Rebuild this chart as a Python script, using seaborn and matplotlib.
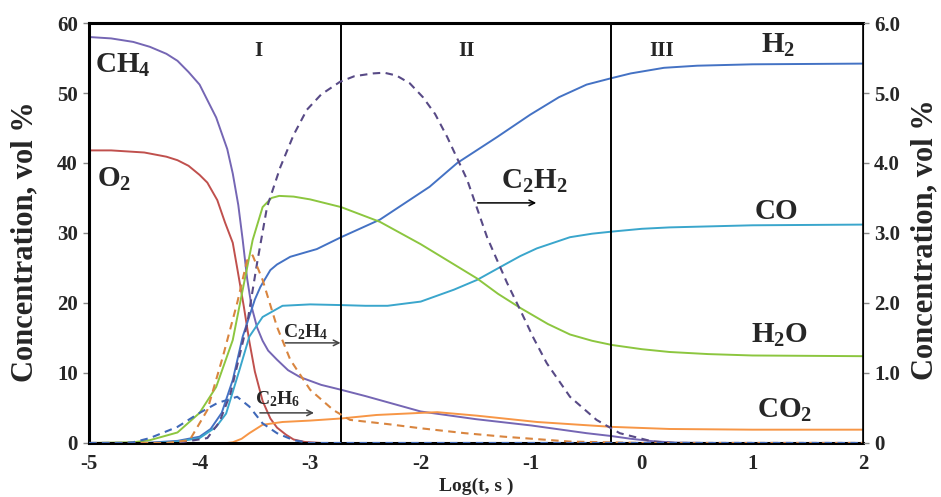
import numpy as np
import pandas as pd
import matplotlib
matplotlib.use("Agg")
import matplotlib.pyplot as plt
import seaborn as sns

# Dados (eixo esquerdo: vol %; tracejadas no eixo direito)
ch4_x = [-5, -4.8, -4.6, -4.45, -4.3, -4.2, -4.1, -4.0, -3.93, -3.85, -3.75, -3.7, -3.65, -3.61,
         -3.57, -3.53, -3.48, -3.43, -3.38, -3.3, -3.2, -3.09, -2.9, -2.72, -2.5, -2.0, -1.5,
         -1.0, -0.5, -0.28, -0.1, 0.1, 0.3, 0.6, 1, 2]
ch4_y = [58, 57.8, 57.3, 56.6, 55.6, 54.6, 53, 51.2, 49, 46.5, 42, 38.5, 34, 29,
         23.5, 19.5, 16.5, 14.6, 13.2, 11.9, 10.4, 9.4, 8.3, 7.6, 6.7, 4.5, 3.4,
         2.5, 1.4, 1.0, 0.6, 0.25, 0.05, 0, 0, 0]

o2_x = [-5, -4.8, -4.5, -4.3, -4.2, -4.1, -4.0, -3.93, -3.84, -3.77, -3.7, -3.66, -3.6, -3.55,
        -3.5, -3.43, -3.36, -3.3, -3.22, -3.15, -3.05, -2.9, 2]
o2_y = [41.8, 41.8, 41.5, 40.9, 40.4, 39.6, 38.3, 37.2, 34.7, 31.5, 28.6, 25, 19.5, 14.5,
        10.2, 6, 3.5, 2.2, 1.2, 0.5, 0.15, 0, 0]

h2_x = [-5, -4.5, -4.2, -4.0, -3.9, -3.8, -3.7, -3.61, -3.5, -3.45, -3.36, -3.3, -3.18, -3.05,
        -2.94, -2.72, -2.37, -1.92, -1.67, -1.31, -1.01, -0.75, -0.5, -0.28, -0.1, 0.2, 0.5,
        1, 2]
h2_y = [0, 0, 0.3, 0.9, 2, 4.3, 9, 15.2, 20.5, 22.3, 24.7, 25.5, 26.6, 27.2,
        27.7, 29.4, 31.9, 36.6, 40, 43.7, 46.9, 49.4, 51.2, 52.1, 52.8, 53.6, 53.9,
        54.1, 54.2]

co_x = [-5, -4.4, -4.2, -4.0, -3.85, -3.76, -3.64, -3.55, -3.43, -3.25, -3.0, -2.72, -2.5, -2.3,
        -2.0, -1.7, -1.49, -1.25, -1.1, -0.95, -0.65, -0.45, -0.27, 0, 0.25, 1, 2]
co_y = [0, 0, 0.2, 0.7, 2.3, 4.2, 10.4, 15.2, 18, 19.6, 19.8, 19.7, 19.6, 19.6,
        20.2, 21.9, 23.3, 25.4, 26.7, 27.8, 29.4, 29.9, 30.2, 30.6, 30.8, 31.1, 31.2]

h2o_x = [-5, -4.6, -4.45, -4.2, -4.0, -3.85, -3.7, -3.61, -3.52, -3.43, -3.35, -3.28, -3.15, -3.0,
         -2.72, -2.37, -2.0, -1.75, -1.49, -1.3, -1.1, -0.85, -0.65, -0.45, -0.27, 0, 0.25,
         0.6, 1, 2]
h2o_y = [0, 0.1, 0.4, 1.5, 4.3, 8, 14.7, 21.9, 29, 33.7, 35, 35.3, 35.2, 34.8,
         33.7, 31.6, 28.4, 26, 23.5, 21.3, 19.3, 17.0, 15.5, 14.6, 14, 13.4, 13,
         12.7, 12.5, 12.4]

co2_x = [-5, -3.75, -3.7, -3.62, -3.55, -3.43, -3.25, -3.0, -2.72, -2.4, -2.0, -1.85, -1.49,
         -0.95, -0.27, 0.25, 1, 2]
co2_y = [0, 0, 0.1, 0.6, 1.4, 2.6, 3.0, 3.2, 3.5, 4.0, 4.3, 4.4, 3.9, 3.0, 2.3, 2.0, 1.9, 1.9]

c2h2_x = [-5, -4.2, -3.93, -3.82, -3.72, -3.57, -3.48, -3.39, -3.27, -3.15, -3.03, -2.9, -2.73,
          -2.6, -2.43, -2.33, -2.22, -2.1, -1.98, -1.87, -1.76, -1.58, -1.4, -1.22, -1.1, -0.98,
          -0.86, -0.65, -0.41, -0.2, 0.1, 0.3, 2]
c2h2_y = [0, 0, 0.07, 0.3, 0.71, 1.7, 2.57, 3.37, 3.94, 4.4, 4.76, 4.98, 5.16,
          5.24, 5.28, 5.29, 5.25, 5.14, 4.94, 4.7, 4.37, 3.76, 2.94, 2.29, 1.9, 1.5,
          1.14, 0.66, 0.33, 0.14, 0.02, 0, 0]

c2h4_x = [-5, -4.3, -4.09, -3.93, -3.79, -3.66, -3.57, -3.52, -3.43, -3.3, -3.18, -3.0, -2.79,
          -2.64, -2.3, -2.0, -1.6, -1.25, -0.65, 0, 2]
c2h4_y = [0, 0, 0.04, 0.47, 1.23, 2.0, 2.61, 2.68, 2.33, 1.66, 1.19, 0.76, 0.47,
          0.33, 0.27, 0.21, 0.14, 0.09, 0.02, 0, 0]

c2h6_x = [-5, -4.7, -4.6, -4.45, -4.2, -4.0, -3.84, -3.66, -3.55, -3.43, -3.3, -3.15, -3.0, 2]
c2h6_y = [0, 0, 0.01, 0.07, 0.23, 0.43, 0.57, 0.66, 0.52, 0.28, 0.14, 0.04, 0, 0]

zone_edges = [-2.72, -0.28]

# Configurações
sns.set_style("white")
plt.rcParams['font.family'] = ['Liberation Serif', 'DejaVu Serif']
plt.rcParams['font.weight'] = 'bold'
plt.rcParams['mathtext.fontset'] = 'custom'
plt.rcParams['mathtext.rm'] = 'Liberation Serif:bold'
plt.rcParams['mathtext.default'] = 'rm'
plt.rcParams['axes.unicode_minus'] = False

solidas = [
    (ch4_x, ch4_y, '#7566b4'),
    (o2_x, o2_y, '#c0504d'),
    (h2_x, h2_y, '#4472c4'),
    (co_x, co_y, '#3aa6cc'),
    (h2o_x, h2o_y, '#8cc63f'),
    (co2_x, co2_y, '#f79646'),
]
tracejadas = [
    (c2h2_x, c2h2_y, '#584a86'),
    (c2h4_x, c2h4_y, '#d9853f'),
    (c2h6_x, c2h6_y, '#3f68b8'),
]

fig = plt.figure(figsize=(9.41, 4.97), dpi=100)
ax = fig.add_axes([0.0946, 0.1087, 0.8225, 0.845])
ax2 = ax.twinx()

for xs, ys, cor in solidas:
    sns.lineplot(x=xs, y=ys, ax=ax, color=cor, lw=1.4, sort=False, estimator=None)
for xs, ys, cor in tracejadas:
    sns.lineplot(x=xs, y=ys, ax=ax2, color=cor, lw=1.5, sort=False, estimator=None)
    ax2.lines[-1].set_dashes([3.6, 2.6])

for xe in zone_edges:
    ax.axvline(xe, color='black', lw=1.4)

ax.set_xlim(-5, 2)
ax.set_ylim(0, 60)
ax2.set_ylim(0, 6)
ax.set_xticks([-5, -4, -3, -2, -1, 0, 1, 2])
ax.set_yticks([0, 10, 20, 30, 40, 50, 60])
ax2.set_yticks([0, 1, 2, 3, 4, 5, 6])
ax2.set_yticklabels(['0', '1.0', '2.0', '3.0', '4.0', '5.0', '6.0'])

for a in (ax, ax2):
    a.tick_params(axis='both', labelsize=15, length=4, width=1, color='#888888', direction='out', pad=4)
    for s in a.spines.values():
        s.set_color('black')
for s in ('left', 'bottom', 'top'):
    ax.spines[s].set_linewidth(2.2)
ax2.spines['right'].set_linewidth(1.2)
ax2.spines['left'].set_visible(False)
ax2.spines['bottom'].set_visible(False)
ax2.spines['top'].set_visible(False)

ax.set_xlabel('Log(t, s )', fontsize=14, fontweight='bold')
ax.xaxis.label.set_va('center')
ax.xaxis.set_label_coords(0.5, -0.103)
ax.set_ylabel('Concentration, vol %', fontsize=22, fontweight='bold')
ax.yaxis.label.set_va('center')
ax.yaxis.set_label_coords(-0.083, 0.48)
ax2.set_ylabel('Concentration, vol %', fontsize=22, fontweight='bold')
ax2.yaxis.label.set_va('center')
ax2.yaxis.set_label_coords(1.08, 0.485)

# Zonas
for txt, xp in [('I', -3.47), ('II', -1.59), ('III', 0.18)]:
    ax.text(xp, 56, txt, fontsize=15, ha='center', va='center')

# Rótulos das espécies
grandes = [
    ('CH$_4$', -4.95, 54),
    ('O$_2$', -4.93, 37.6),
    ('H$_2$', 1.08, 56.8),
    ('C$_2$H$_2$', -1.27, 37.3),
    ('CO', 1.02, 33),
    ('H$_2$O', 0.99, 15.4),
    ('CO$_2$', 1.04, 4.7),
]
for txt, xp, yp in grandes:
    ax.text(xp, yp, txt, fontsize=21, ha='left', va='center')

ax.text(-3.25, 15.9, 'C$_2$H$_4$', fontsize=14, ha='left', va='center')
ax.text(-3.5, 6.2, 'C$_2$H$_6$', fontsize=14, ha='left', va='center')

setas = [
    ((-1.51, 34.3), (-0.93, 34.3), 'black'),
    ((-3.25, 14.3), (-2.70, 14.3), '#444444'),
    ((-3.48, 4.3), (-2.94, 4.3), '#444444'),
]
for ini, fim, cor in setas:
    ax.annotate('', xy=fim, xytext=ini,
                arrowprops=dict(arrowstyle='->', color=cor, lw=1.1))

plt.savefig('out.png', dpi=100)
plt.close()
